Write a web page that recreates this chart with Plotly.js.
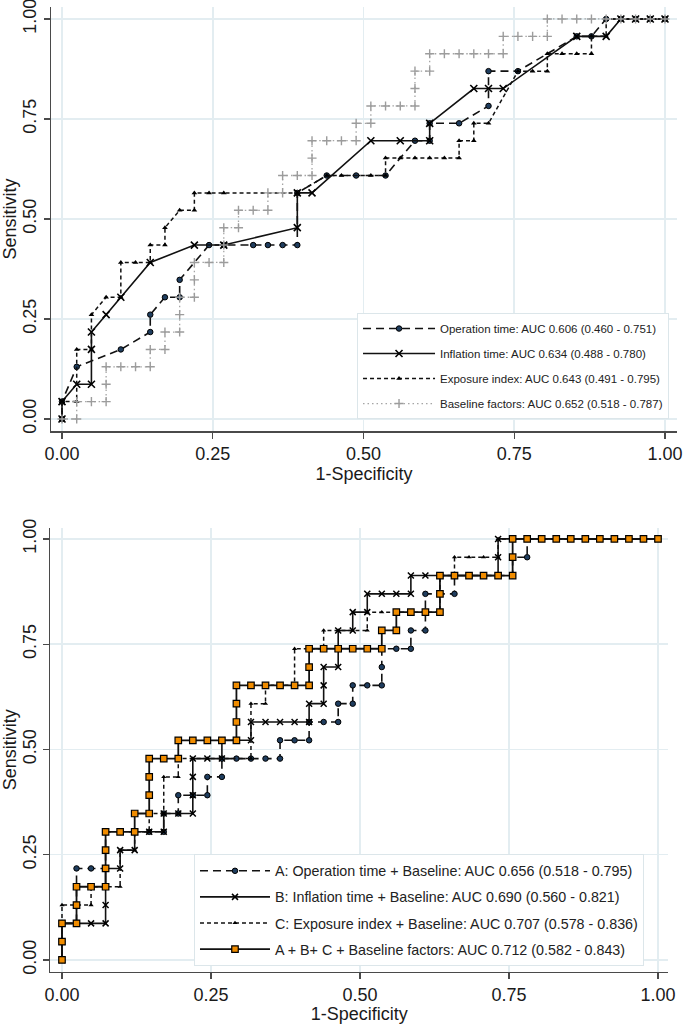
<!DOCTYPE html>
<html><head><meta charset="utf-8">
<script src="https://cdn.plot.ly/plotly-3.0.1.min.js"></script>
<style>html,body{margin:0;padding:0;background:#fff}#chart{width:685px;height:1024px}</style>
</head><body><div id="chart"></div>
<script>
// ROC counts: false positives out of 41 negatives, true positives out of 23 positives
const N_NEG = 41, N_POS = 23;

const tickVals = [0, 0.25, 0.5, 0.75, 1];
const tickText = ['0.00', '0.25', '0.50', '0.75', '1.00'];

// ---- Top panel ----
const topNames = [
  'Operation time: AUC 0.606 (0.460 - 0.751)',
  'Inflation time: AUC 0.634 (0.488 - 0.780)',
  'Exposure index: AUC 0.643 (0.491 - 0.795)',
  'Baseline factors: AUC 0.652 (0.518 - 0.787)'
];
const opFP = [0,0,1,4,6,6,7,8,8,10,11,13,14,15,16,16,18,20,22,24,25,25,27,29,29,31,35,36,37,38,39,40,41];
const opTP = [0,1,3,4,5,6,7,7,8,10,10,10,10,10,10,13,14,14,14,16,16,17,17,18,20,20,22,22,23,23,23,23,23];
const infFP = [0,0,1,2,2,2,3,4,6,9,11,16,16,17,21,23,25,25,28,29,30,35,37,38,39,40,41];
const infTP = [0,1,2,2,4,5,6,7,9,10,10,11,13,13,16,16,16,17,19,19,19,22,22,23,23,23,23];
const expFP = [0,0,1,1,2,2,3,4,4,5,6,6,7,7,8,9,9,10,11,16,18,19,21,22,22,23,24,25,26,27,27,28,28,29,31,32,33,33,34,35,36,36,37,37,41];
const expTP = [0,1,1,4,4,6,7,7,9,9,9,10,10,11,12,12,13,13,13,13,14,14,14,14,15,15,15,15,15,15,16,16,17,17,20,20,20,21,21,21,21,22,22,23,23];
const baseFP = [0,1,1,2,3,3,3,4,5,6,6,7,7,8,8,8,9,9,9,10,11,11,11,12,12,13,14,14,15,15,16,17,17,17,18,19,20,20,21,21,22,23,24,24,24,25,25,26,27,28,29,30,30,31,32,33,33,34,35,36,37,38,39,40,41];
const baseTP = [0,0,1,1,1,2,3,3,3,3,4,4,5,5,6,7,7,8,9,9,9,10,11,11,12,12,12,13,13,14,14,14,15,16,16,16,16,17,17,18,18,18,18,19,20,20,21,21,21,21,21,21,22,22,22,22,23,23,23,23,23,23,23,23,23];

// ---- Bottom panel ----
const botNames = [
  'A: Operation time + Baseline: AUC 0.656 (0.518 - 0.795)',
  'B: Inflation time + Baseline: AUC 0.690 (0.560 - 0.821)',
  'C: Exposure index + Baseline: AUC 0.707 (0.578 - 0.836)',
  'A + B+ C + Baseline factors: AUC 0.712 (0.582 - 0.843)'
];
const aFP = [0,0,0,1,1,1,1,2,3,3,3,4,5,6,7,7,8,8,9,10,10,11,11,12,13,14,15,15,16,17,17,18,19,19,20,20,21,22,22,22,23,24,24,25,25,25,26,27,27,28,29,30,31,31,32,32,41];
const aTP = [0,1,2,2,3,4,5,5,5,6,7,7,7,7,7,8,8,9,9,9,10,10,11,11,11,11,11,12,12,12,13,13,13,14,14,15,15,15,16,17,17,17,18,18,19,20,20,20,21,21,21,21,21,22,22,23,23];
const bFP = [0,0,0,1,2,3,3,3,3,4,4,5,5,6,7,7,8,9,9,9,9,10,11,11,12,13,13,14,15,16,17,17,18,18,18,19,19,19,20,20,21,21,22,23,24,24,25,26,27,28,29,30,30,30,41];
const bTP = [0,1,2,2,2,2,3,4,5,5,6,6,7,7,7,8,8,8,9,10,11,11,11,12,12,12,13,13,13,13,13,14,14,15,16,16,17,18,18,19,19,20,20,20,20,21,21,21,21,21,21,21,22,23,23];
const cFP = [0,0,1,2,2,3,4,4,5,5,6,6,7,7,8,8,9,10,13,13,14,14,15,16,16,17,18,18,19,20,21,21,22,26,26,27,27,28,29,30,30,41];
const cTP = [0,3,3,3,4,4,4,6,6,7,7,8,8,10,10,11,11,11,11,14,14,15,15,15,17,17,17,18,18,18,18,19,19,19,21,21,22,22,22,22,23,23];
const dFP = [0,0,0,1,1,1,2,3,3,3,3,4,5,5,6,6,6,6,7,8,8,9,10,11,12,12,12,12,13,14,15,16,17,17,17,18,19,20,21,22,22,23,23,24,25,26,26,26,27,28,29,30,31,31,31,32,33,34,35,36,37,38,39,40,41];
const dTP = [0,1,2,2,3,4,4,4,5,6,7,7,7,8,8,9,10,11,11,11,12,12,12,12,12,13,14,15,15,15,15,15,15,16,17,17,17,17,17,17,18,18,19,19,19,19,20,21,21,21,21,21,21,22,23,23,23,23,23,23,23,23,23,23,23];

const fx = a => a.map(v => v / N_NEG);
const fy = a => a.map(v => v / N_POS);

const FONT = 'Liberation Sans, Arial, sans-serif';
const NAVY = '#1f3d5e';
const ORANGE = '#f08c00';

function tr(fp, tp, name, xa, ya, leg, grp, line, marker) {
  return {x: fx(fp), y: fy(tp), name: name, xaxis: xa, yaxis: ya, legend: leg,
    legendgroup: grp, mode: 'lines+markers', line: line, marker: marker, cliponaxis: false};
}

const traces = [
  tr(opFP, opTP, topNames[0], 'x', 'y', 'legend', 't1',
     {color: '#111', width: 1.6, dash: '8px,5px'},
     {symbol: 'circle', size: 5.5, color: NAVY, line: {color: '#000', width: 1}}),
  tr(infFP, infTP, topNames[1], 'x', 'y', 'legend', 't2',
     {color: '#111', width: 1.6},
     {symbol: 'x-thin', size: 7, color: '#000', line: {color: '#000', width: 1.6}}),
  tr(expFP, expTP, topNames[2], 'x', 'y', 'legend', 't3',
     {color: '#111', width: 1.5, dash: '4px,3px'},
     {symbol: 'triangle-up', size: 5, color: '#000', line: {width: 0}}),
  tr(baseFP, baseTP, topNames[3], 'x', 'y', 'legend', 't4',
     {color: '#a5a5a5', width: 1.3, dash: '1.5px,3px'},
     {symbol: 'cross-thin', size: 6.5, color: '#9c9c9c', line: {color: '#9c9c9c', width: 1.4}}),

  tr(aFP, aTP, botNames[0], 'x2', 'y2', 'legend2', 'b1',
     {color: '#111', width: 1.6, dash: '8px,5px'},
     {symbol: 'circle', size: 5.5, color: NAVY, line: {color: '#000', width: 1}}),
  tr(bFP, bTP, botNames[1], 'x2', 'y2', 'legend2', 'b2',
     {color: '#111', width: 1.6},
     {symbol: 'x-thin', size: 6, color: '#000', line: {color: '#000', width: 1.5}}),
  tr(cFP, cTP, botNames[2], 'x2', 'y2', 'legend2', 'b3',
     {color: '#111', width: 1.5, dash: '4px,3px'},
     {symbol: 'triangle-up', size: 4.5, color: '#000', line: {width: 0}}),
  tr(dFP, dTP, botNames[3], 'x2', 'y2', 'legend2', 'b4',
     {color: '#111', width: 1.8},
     {symbol: 'square', size: 6.5, color: ORANGE, line: {color: '#000', width: 1.2}})
];

const axisCommon = {
  tickvals: tickVals, ticktext: tickText, showline: true, linecolor: '#4a4a4a', linewidth: 1.5,
  ticks: 'outside', ticklen: 6, tickwidth: 1.3, tickcolor: '#4a4a4a', ticklabeloverflow: 'allow',
  showgrid: true, gridcolor: '#e3edf1', gridwidth: 1.5, zeroline: false,
  tickfont: {family: FONT, size: 18, color: '#1a1a1a'}, fixedrange: true
};

const layout = {
  width: 685, height: 1024, margin: {l: 0, r: 0, t: 0, b: 0},
  paper_bgcolor: '#fff', plot_bgcolor: '#fff',
  font: {family: FONT, color: '#1a1a1a'},
  xaxis: Object.assign({}, axisCommon, {domain: [0.0745, 0.9883], range: [-0.0182, 1.0199], anchor: 'y',
    title: {text: '1-Specificity', font: {family: FONT, size: 18}, standoff: 3}}),
  yaxis: Object.assign({}, axisCommon, {domain: [0.5791, 0.9932], range: [-0.03, 1.03], anchor: 'x', tickangle: -90,
    title: {text: 'Sensitivity', font: {family: FONT, size: 18}, standoff: 2}}),
  xaxis2: Object.assign({}, axisCommon, {domain: [0.0737, 0.9752], range: [-0.0193, 1.0168], anchor: 'y2',
    title: {text: '1-Specificity', font: {family: FONT, size: 18}, standoff: 3}}),
  yaxis2: Object.assign({}, axisCommon, {domain: [0.0511, 0.4844], range: [-0.0278, 1.026], anchor: 'x2', tickangle: -90,
    title: {text: 'Sensitivity', font: {family: FONT, size: 18}, standoff: 2}}),
  legend: {x: 0.5212, y: 0.6943, xanchor: 'left', yanchor: 'top', bgcolor: '#fff',
    bordercolor: '#dce6ea', borderwidth: 1, tracegroupgap: 6, itemwidth: 72,
    font: {family: FONT, size: 11.5, color: '#222'}},
  legend2: {x: 0.2832, y: 0.1660, xanchor: 'left', yanchor: 'top', bgcolor: '#fff',
    bordercolor: '#dce6ea', borderwidth: 1, tracegroupgap: 4.5, itemwidth: 70,
    entrywidth: 460, entrywidthmode: 'pixels',
    font: {family: FONT, size: 14.3, color: '#222'}},
  showlegend: true
};

Plotly.newPlot('chart', traces, layout, {staticPlot: true, displayModeBar: false});
</script>
</body></html>
